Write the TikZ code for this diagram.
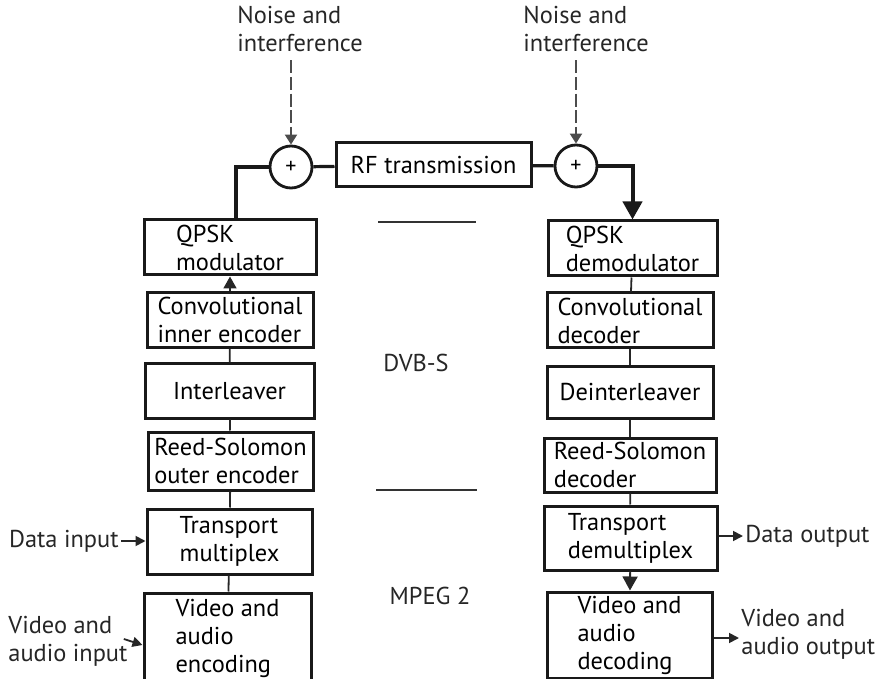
\documentclass[tikz,border=0pt]{standalone}
\usepackage{fontspec}
\setmainfont{PT Sans}
\usetikzlibrary{positioning,arrows.meta}

\begin{document}
\begin{tikzpicture}[
  x=0.5pt, y=-0.5pt,
  font=\fontsize{12.2}{14}\selectfont,
  blk/.style={rectangle,draw=black!90,line width=1.5pt,align=left,inner sep=0pt},
  sum/.style={circle,draw=black!90,line width=1.4pt,minimum size=21pt,inner sep=0pt,
              font=\fontsize{11}{11}\selectfont},
  lbl/.style={align=left,inner sep=1pt,text=black!85},
  mid/.style={text=black!85,inner sep=0pt},
  thick link/.style={line width=2pt,black!90},
  link/.style={line width=0.9pt,black!85},
  arr/.style={link,-{Triangle[length=5pt,width=5pt]}},
  noise/.style={line width=1pt,black!70,dash pattern=on 6.5pt off 1.8pt,
                -{Triangle[length=5pt,width=6pt]}},
  rule/.style={line width=1pt,black!80}
]
\useasboundingbox (0,0) rectangle (884,679);

%% ================= transmitter =================
\node[blk,minimum width=86pt,minimum height=27.5pt] (qmod) at (230,247.5) {QPSK\\modulator};
\node[blk,minimum width=83pt,minimum height=27.5pt] (conv) at (230,320)   {Convolutional\\inner encoder};
\node[blk,minimum width=84.5pt,minimum height=27pt] (intl) at (229.5,391) {Interleaver};
\node[blk,minimum width=82.5pt,minimum height=29pt] (rs)   at (230.5,461) {Reed-Solomon\\outer encoder};
\node[blk,minimum width=82.5pt,minimum height=32.5pt] (tmux) at (229.5,541.5) {Transport\\multiplex};
\node[blk,minimum width=83.5pt,minimum height=45pt] (venc) at (227.5,638) {Video and\\audio\\encoding};

\draw[link,-{Triangle[length=6pt,width=6.5pt]}] (conv) -- (qmod);
\foreach \a/\b in {conv/intl, intl/rs, rs/tmux, tmux/venc} \draw[link] (\a) -- (\b);

\node[lbl,anchor=east] (din) at (121,541) {Data input};
\draw[arr] (din.east) -- (din.east -| tmux.west);
\node[lbl,anchor=west] (vin) at (6,641) {Video and\\audio input};
\draw[arr] ([shift={(-6,-2)}]vin.east) -- ([yshift=-2]vin.east -| venc.west);

%% ================= channel =================
\node[sum] (sum1) at (291,167) {+};
\node[blk,minimum width=97.5pt,minimum height=22pt,align=center] (rf) at (433.5,165) {RF transmission};
\node[sum] (sum2) at (576,166) {+};

\node[lbl,anchor=north west] (nz1) at (235,4) {Noise and\\interference};
\node[lbl,anchor=north west] (nz2) at (521,4) {Noise and\\interference};
\draw[noise] (nz1.south -| sum1) ++(0,6) -- (sum1.north);
\draw[noise] (nz2.south -| sum2) ++(0,6) -- (sum2.north);

\draw[thick link] ([xshift=3]qmod.north) |- (sum1.west);
\draw[line width=1.6pt,black!90] (sum1) -- (rf);
\draw[line width=1.6pt,black!90] (rf) -- (sum2);

%% ================= receiver =================
\node[blk,minimum width=84.5pt,minimum height=27.5pt] (qdem) at (632.5,248.5) {QPSK\\demodulator};
\node[blk,minimum width=83pt,minimum height=27.5pt] (cdec) at (630,320.5) {Convolutional\\decoder};
\node[blk,minimum width=83pt,minimum height=25.5pt] (dint) at (630,392.5) {Deinterleaver};
\node[blk,minimum width=86pt,minimum height=27pt] (rsd)  at (630,465) {Reed-Solomon\\decoder};
\node[blk,minimum width=86.5pt,minimum height=32pt] (tdmx) at (630.5,538) {Transport\\demultiplex};
\node[blk,minimum width=82.5pt,minimum height=43pt] (vdec) at (629.5,635) {Video and\\audio\\decoding};

\draw[thick link,-{Triangle[length=9pt,width=9.5pt]}] (sum2.east) -| (qdem.north);
\foreach \a/\b in {qdem/cdec, cdec/dint, dint/rsd, rsd/tdmx} \draw[link] (\a) -- (\b);
\draw[link,-{Triangle[length=7pt,width=7.5pt]}] (tdmx) -- (vdec);

\node[lbl,anchor=west] (dout) at (743,536) {Data output};
\draw[arr] (dout.west -| tdmx.east) -- (dout.west);
\node[lbl,anchor=west] (vout) at (739,634) {Video and\\audio output};
\draw[arr] ([yshift=-2]vout.west -| vdec.east) -- ([yshift=-2]vout.west);

%% ================= layers =================
\draw[rule] (378,222) -- (476,222);
\draw[rule] (376,490) -- (477,490);
\node[mid] (dvbs) at (416,363) {DVB-S};
\node[mid] (mpeg) at (430,596) {MPEG 2};

\end{tikzpicture}
\end{document}
